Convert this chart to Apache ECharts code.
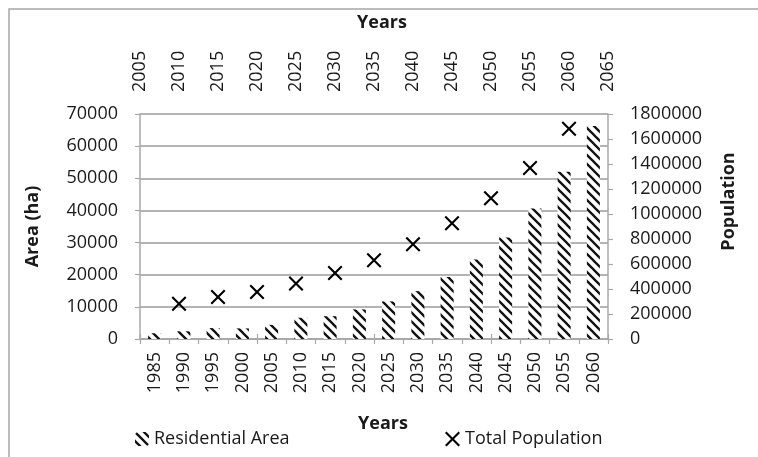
<!DOCTYPE html>
<html><head><meta charset="utf-8">
<script src="https://cdn.jsdelivr.net/npm/echarts@6/dist/echarts.min.js"></script>
<style>html,body{margin:0;padding:0;background:#fff}#c{width:758px;height:457px}</style>
</head><body><div id="c"></div>
<script>
const categories = ['1985','1990','1995','2000','2005','2010','2015','2020','2025','2030','2035','2040','2045','2050','2055','2060'];
const residentialArea = [1800, 2400, 3400, 3300, 4400, 6600, 7100, 9200, 11700, 14900, 19300, 24700, 31600, 40600, 52000, 66300];
const popYears = [2010, 2015, 2020, 2025, 2030, 2035, 2040, 2045, 2050, 2055, 2060];
const totalPopulation = [282000, 336000, 376000, 444000, 529000, 631000, 759000, 926000, 1127000, 1368000, 1683000];

const FONT = '"Open Sans", "Liberation Sans", sans-serif';
const FS = 18;
const TXT = '#1a1a1a';
const plain = v => String(v);

function hatch() {
  const s = 9, c = document.createElement('canvas');
  c.width = s; c.height = s;
  const g = c.getContext('2d');
  g.fillStyle = '#fff'; g.fillRect(0, 0, s, s);
  g.strokeStyle = '#111'; g.lineWidth = 2.3; g.lineCap = 'square';
  g.beginPath();
  g.moveTo(-2, -2); g.lineTo(s + 2, s + 2);
  g.moveTo(-2, s - 2); g.lineTo(2, s + 2);
  g.moveTo(s - 2, -2); g.lineTo(s + 2, 2);
  g.stroke();
  return c;
}
const pattern = { image: hatch(), repeat: 'repeat' };
const XPATH = 'path://M0,2L2,0L10,8L18,0L20,2L12,10L20,18L18,20L10,12L2,20L0,18L8,10Z';

const chart = echarts.init(document.getElementById('c'), null, { renderer: 'canvas' });
const axisLine = { show: true, lineStyle: { color: '#a8a8a8', width: 1.5 } };
const axisTick = { show: true, length: 5, lineStyle: { color: '#a8a8a8', width: 1.2 } };
chart.setOption({
  animation: false,
  textStyle: { fontFamily: FONT },
  graphic: [{ type: 'rect', shape: { x: 9, y: 9, width: 800, height: 500 }, style: { fill: 'none', stroke: '#a6a6a6', lineWidth: 1.5 }, silent: true }],
  grid: { left: 140, right: 150, top: 114, bottom: 118 },
  legend: [
    { data: ['Residential Area'], left: 130, top: 425, itemWidth: 14, itemHeight: 14, itemGap: 4,
      textStyle: { fontSize: FS, color: TXT, fontFamily: FONT } },
    { data: [{ name: 'Total Population', icon: XPATH }], left: 440, top: 425, itemWidth: 15, itemHeight: 15, itemGap: 4,
      textStyle: { fontSize: FS, color: TXT, fontFamily: FONT } }
  ],
  xAxis: [
    { type: 'category', data: categories, position: 'bottom',
      name: 'Years', nameLocation: 'middle', nameGap: 76,
      nameTextStyle: { fontSize: FS, fontWeight: 'bold', color: TXT, fontFamily: FONT, padding: [0, 0, 0, 18] },
      axisLine, axisTick: Object.assign({}, axisTick, { alignWithLabel: false }),
      axisLabel: { rotate: 90, margin: 13, fontSize: FS, color: TXT, fontFamily: FONT, interval: 0 } },
    { type: 'value', position: 'top', min: 2005, max: 2065, interval: 5,
      name: 'Years', nameLocation: 'middle', nameGap: 82,
      nameTextStyle: { fontSize: FS, fontWeight: 'bold', color: TXT, fontFamily: FONT, padding: [0, 0, 0, 16] },
      axisLine, axisTick, splitLine: { show: false },
      axisLabel: { rotate: 90, margin: 22, fontSize: FS, color: TXT, fontFamily: FONT, formatter: plain } }
  ],
  yAxis: [
    { type: 'value', min: 0, max: 70000, interval: 10000, position: 'left',
      name: 'Area (ha)', nameLocation: 'middle', nameGap: 98, nameRotate: 90,
      nameTextStyle: { fontSize: FS, fontWeight: 'bold', color: TXT, fontFamily: FONT },
      axisLine, axisTick,
      splitLine: { show: true, lineStyle: { color: '#b4b4b4', width: 2 } },
      axisLabel: { margin: 22, fontSize: FS, color: TXT, fontFamily: FONT, formatter: plain } },
    { type: 'value', min: 0, max: 1800000, interval: 200000, position: 'right',
      name: 'Population', nameLocation: 'middle', nameGap: 112, nameRotate: 90,
      nameTextStyle: { fontSize: FS, fontWeight: 'bold', color: TXT, fontFamily: FONT, padding: [0, 0, 0, 50] },
      axisLine, axisTick, splitLine: { show: false },
      axisLabel: { margin: 22, fontSize: FS, color: TXT, fontFamily: FONT, formatter: plain } }
  ],
  series: [
    { name: 'Residential Area', type: 'bar', xAxisIndex: 0, yAxisIndex: 0, barWidth: 13,
      data: residentialArea, itemStyle: { color: pattern } },
    { name: 'Total Population', type: 'scatter', xAxisIndex: 1, yAxisIndex: 1,
      symbol: XPATH, symbolSize: 15, itemStyle: { color: '#000', opacity: 1 },
      data: popYears.map((y, i) => [y, totalPopulation[i]]) }
  ]
});
</script></body></html>
